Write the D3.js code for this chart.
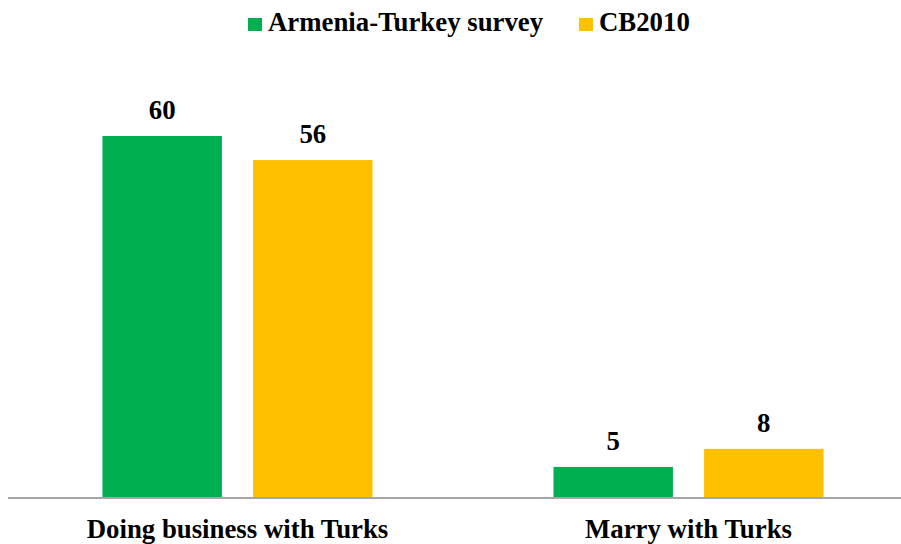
<!DOCTYPE html>
<html><head><meta charset="utf-8">
<script src="https://cdn.jsdelivr.net/npm/d3@7"></script>
<style>body{margin:0;background:#fff}svg{display:block}text{font-family:"Liberation Serif","Times New Roman",serif;font-weight:bold;fill:#000}</style>
</head><body>
<svg id="c" width="901" height="544"></svg>
<script>
const categories = ["Doing business with Turks", "Marry with Turks"];
const seriesNames = ["Armenia-Turkey survey", "CB2010"];
const armeniaTurkey = [60, 5];
const cb2010 = [56, 8];
const colors = ["#00B050", "#FFC000"];

const svg = d3.select("#c");
const fs = 26.8;
const x0 = d3.scaleBand().domain(categories).range([12, 914]).paddingInner(0.4013).paddingOuter(0.2006);
const x1 = d3.scaleBand().domain(seriesNames).range([0, x0.bandwidth()]).paddingInner(0.207).paddingOuter(0);
const y = d3.scaleLinear().domain([0, 60]).range([497, 136]);

const values = [armeniaTurkey, cb2010];
const data = [];
categories.forEach((c, i) => seriesNames.forEach((s, j) => data.push({c, s, j, v: values[j][i]})));

svg.selectAll("rect.bar").data(data).join("rect").attr("class","bar")
  .attr("x", d => x0(d.c) + x1(d.s)).attr("width", x1.bandwidth())
  .attr("y", d => y(d.v)).attr("height", d => y(0) - y(d.v))
  .attr("fill", d => colors[d.j]);

svg.selectAll("text.val").data(data).join("text").attr("class","val")
  .attr("x", d => x0(d.c) + x1(d.s) + x1.bandwidth()/2)
  .attr("y", d => y(d.v) - 17).attr("text-anchor","middle").attr("font-size", fs)
  .text(d => d.v);

// baseline
svg.append("line").attr("x1", 8).attr("x2", 901).attr("y1", y(0)+1).attr("y2", y(0)+1)
  .attr("stroke", "#a6a6a6").attr("stroke-width", 2);

// category axis labels
const ax = d3.axisBottom(x0).tickSize(0).tickPadding(0);
const g = svg.append("g").attr("transform", `translate(0,${y(0)})`).call(ax);
g.select(".domain").remove();
g.selectAll("text").attr("font-size", fs).attr("font-family", null).attr("dy", null).attr("y", 41).style("fill","#000");

// legend
const leg = [{n: seriesNames[0], x: 248, c: colors[0]}, {n: seriesNames[1], x: 579, c: colors[1]}];
const lg = svg.selectAll("g.leg").data(leg).join("g").attr("class","leg");
lg.append("rect").attr("x", d => d.x).attr("y", 18).attr("width", 14).attr("height", 13).attr("fill", d => d.c);
lg.append("text").attr("x", d => d.x + 20).attr("y", 31).attr("font-size", fs).text(d => d.n);
</script>
</body></html>
